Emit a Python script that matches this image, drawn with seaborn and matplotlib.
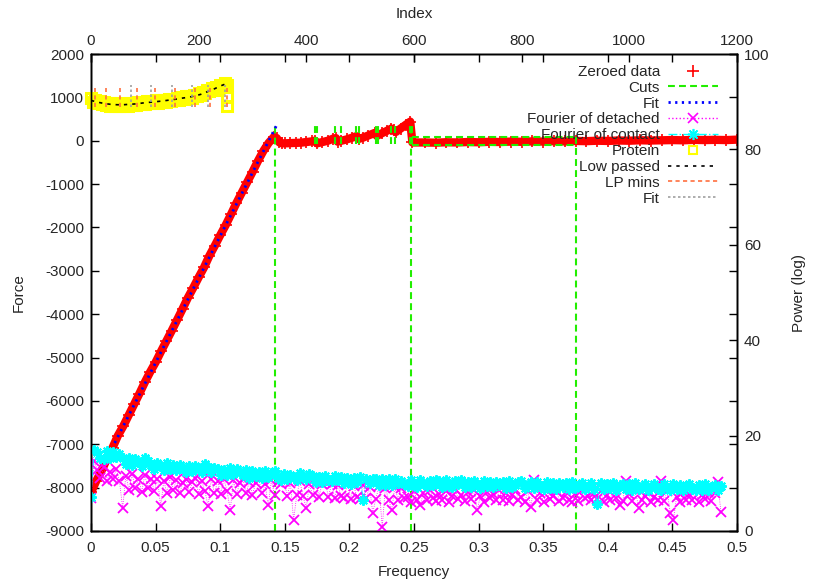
import numpy as np
import pandas as pd
import matplotlib
matplotlib.use("Agg")
import matplotlib.pyplot as plt
from matplotlib.lines import Line2D
import seaborn as sns

# ---------------- data ----------------
# Zeroed data: index vs force
red_idx = [0, 10, 20, 30, 40, 50, 60, 70, 80, 90, 100, 110, 120, 130, 140, 150, 160, 170,
           180, 190, 200, 210, 220, 230, 240, 250, 260, 270, 280, 290, 300, 310, 320, 330, 340,
           345, 350, 355, 360, 370, 380, 390, 400, 410, 416, 420, 430, 440, 450, 455, 458, 465,
           475, 485, 493, 497, 505, 515, 527, 531, 540, 550, 558, 562, 566, 575, 585, 593, 597,
           620, 640, 660, 680, 700, 720, 740, 760, 780, 800, 820, 840, 860, 880, 900, 920, 940,
           960, 980, 1000, 1020, 1040, 1060, 1080, 1100, 1120, 1140, 1160, 1180, 1200]
red_force = [-8110, -7840, -7600, -7330, -7080, -6800, -6580, -6330, -6080, -5830, -5570, -5330,
             -5110, -4860, -4620, -4380, -4130, -3880, -3620, -3390, -3150, -2920, -2650, -2420,
             -2180, -1950, -1700, -1440, -1200, -960, -720, -470, -240, -50, 90,
             60, -40, -60, -60, -55, -50, -45, -30, -15, 0, -60, -30, 0, 50, 60, -20, 0,
             30, 70, 105, 40, 70, 120, 180, 110, 170, 230, 280, 240, 200, 280, 370, 440, -40,
             -40, -45, -35, -40, -30, -35, -25, -30, -20, -25, -15, -20, -10, -15, -5, -10, 0,
             -5, 5, 0, 10, 5, 10, 15, 10, 20, 15, 20, 15, 25]

# Fit (blue) over the contact slope
fit_idx = [44, 347]
fit_force = [-6970, 410]

# Cuts (green)
cut_tall = [342, 594]
cut_short = [416, 420, 454, 464, 493, 498, 529, 534, 558, 565, 593, 596]
cut_short_lo, cut_short_hi = -80, 400
cut_box_idx = [596, 900]
cut_box_force = [90, -100]

# Protein (yellow squares)
prot_idx = [0, 4, 8, 12, 16, 20, 24, 28, 32, 36, 40, 44, 48, 52, 56, 60, 64, 68, 72, 76, 80,
            84, 88, 92, 96, 100, 104, 108, 112, 116, 120, 124, 128, 132, 136, 140, 144, 148,
            152, 156, 160, 164, 168, 172, 176, 180, 184, 188, 192, 196, 200, 204, 208, 212,
            216, 220, 224, 228, 232, 236, 240, 244, 248, 252, 253, 253]
prot_force = [980, 900, 950, 870, 920, 840, 890, 820, 870, 800, 860, 790, 850, 800, 860, 790,
              850, 810, 870, 820, 880, 830, 890, 840, 900, 850, 910, 860, 920, 870, 930, 880,
              940, 890, 950, 900, 960, 910, 970, 930, 990, 950, 1010, 960, 1020, 980, 1040,
              990, 1060, 1020, 1090, 1050, 1130, 1090, 1170, 1140, 1220, 1180, 1250, 1220,
              1290, 1250, 1320, 1290, 800, 1010]

# Low passed (black)
lp_idx = [0, 12, 24, 36, 48, 60, 72, 84, 96, 108, 120, 132, 144, 156, 168, 180, 192, 204,
          216, 228, 240, 248]
lp_force = [930, 890, 860, 840, 830, 830, 840, 850, 870, 885, 900, 915, 935, 955, 980, 1000,
            1030, 1070, 1130, 1190, 1260, 1300]

# LP mins (orange) and Fit (grey) markers
lpmin_idx = [7, 28, 54, 85, 119, 156, 193, 221, 253]
lpmin_lo, lpmin_hi = 780, 1220
pfit_idx = [74, 112, 150, 188, 217, 249]
pfit_lo, pfit_hi = 780, 1290

# Fourier spectra (frequency vs power)
n_freq = 200
freq = np.arange(n_freq) * 0.00245
contact = [
    7.2, 16.9, 16.6, 15.4, 15.1, 16.7, 15.2, 16.5, 15.6, 16.2,
    15.3, 14.0, 15.4, 13.8, 15.1, 14.4, 13.7, 15.3, 14.6, 13.9,
    12.9, 14.2, 13.6, 12.8, 14.2, 13.1, 13.9, 12.8, 13.8, 13.2,
    12.4, 13.6, 12.5, 13.7, 12.9, 12.3, 14.0, 13.5, 12.3, 13.2,
    13.1, 11.8, 12.7, 11.7, 13.2, 12.0, 12.9, 12.3, 11.7, 12.8,
    11.2, 12.5, 11.5, 12.4, 11.1, 12.6, 11.4, 12.2, 12.5, 11.2,
    10.7, 12.0, 10.8, 11.8, 11.2, 10.6, 12.1, 11.5, 10.8, 11.9,
    11.5, 10.3, 11.3, 10.3, 11.6, 10.7, 10.4, 11.5, 10.6, 11.3,
    10.0, 11.2, 9.9, 11.1, 10.3, 11.3, 6.5, 10.8, 10.0, 11.0,
    10.9, 9.7, 10.9, 9.6, 10.8, 9.7, 11.0, 10.1, 10.5, 9.8,
    9.4, 10.7, 9.7, 9.3, 10.6, 10.1, 9.4, 10.5, 9.6, 10.6,
    10.5, 9.3, 10.6, 9.5, 9.2, 10.5, 9.8, 10.6, 9.3, 10.2,
    9.2, 10.4, 9.8, 9.1, 10.5, 9.4, 10.3, 9.2, 10.2, 9.6,
    10.3, 9.1, 10.4, 9.3, 9.7, 10.2, 10.4, 9.1, 9.6, 10.3,
    9.0, 10.2, 9.4, 8.9, 10.2, 9.1, 10.0, 8.9, 10.1, 9.3,
    10.0, 8.9, 10.2, 9.0, 9.4, 10.1, 8.9, 9.3, 10.0, 8.9,
    5.6, 10.0, 8.8, 9.9, 9.1, 10.1, 8.7, 9.6, 9.9, 8.9,
    9.9, 8.7, 10.0, 8.8, 9.3, 9.9, 8.7, 9.2, 9.8, 8.8,
    8.7, 9.8, 9.1, 8.6, 9.9, 8.8, 9.7, 8.6, 9.4, 9.8,
    8.8, 8.5, 9.7, 8.6, 9.8, 8.5, 9.2, 9.7, 8.5, 9.5]
detached = [
    7.0, 14.6, 12.8, 11.2, 13.4, 10.5, 12.3, 11.0, 12.9, 10.4,
    4.8, 11.6, 8.6, 11.9, 9.0, 10.9, 8.2, 11.7, 9.1, 10.8,
    8.4, 11.0, 5.2, 10.4, 8.0, 11.3, 8.6, 10.7, 7.9, 10.1,
    10.8, 8.1, 10.2, 11.1, 7.8, 10.5, 8.3, 5.2, 10.9, 7.9,
    10.4, 7.8, 10.9, 8.3, 4.4, 10.6, 7.7, 10.1, 11.0, 8.0,
    10.3, 7.6, 10.0, 10.8, 7.9, 9.8, 5.4, 10.6, 7.5, 10.2,
    9.9, 10.5, 7.4, 10.1, 2.3, 7.6, 10.4, 7.3, 4.8, 9.9,
    7.5, 10.2, 7.2, 9.8, 10.3, 7.1, 9.9, 6.9, 9.6, 7.4,
    7.0, 9.8, 6.8, 9.5, 7.2, 6.7, 9.7, 6.9, 9.3, 3.8,
    6.8, 9.4, 0.8, 9.1, 6.6, 4.4, 9.3, 6.5, 9.0, 6.9,
    7.2, 6.1, 8.3, 6.6, 5.4, 7.9, 6.4, 8.6, 7.0, 6.2,
    7.8, 6.5, 8.4, 6.0, 7.4, 8.9, 6.7, 7.6, 6.3, 8.1,
    6.8, 8.5, 4.4, 7.3, 6.1, 8.2, 6.9, 7.7, 6.4, 8.7,
    6.6, 8.0, 6.2, 7.5, 8.8, 6.5, 7.1, 6.0, 8.3, 5.0,
    10.7, 6.4, 7.9, 6.1, 8.4, 6.8, 7.4, 8.7, 6.3, 7.0,
    8.1, 6.5, 6.0, 7.7, 6.2, 8.6, 6.9, 7.3, 6.4, 8.0,
    6.7, 8.3, 6.1, 7.6, 6.5, 8.8, 7.0, 5.4, 6.3, 10.4,
    7.8, 6.2, 8.5, 4.8, 6.6, 7.4, 8.2, 6.1, 7.1, 6.5,
    10.5, 6.3, 8.4, 3.8, 2.3, 7.2, 6.0, 8.1, 6.6, 7.7,
    6.4, 8.6, 6.1, 7.5, 6.8, 8.2, 6.3, 7.9, 10.2, 4.0]

freq_ticks = [0, 0.05, 0.1, 0.15, 0.2, 0.25, 0.3, 0.35, 0.4, 0.45, 0.5]
freq_tick_labels = ["0", "0.05", "0.1", "0.15", "0.2", "0.25", "0.3", "0.35", "0.4", "0.45", "0.5"]
force_ticks = list(range(-9000, 2001, 1000))
index_ticks = list(range(0, 1201, 200))
power_ticks = list(range(0, 101, 20))

# ---------------- style ----------------
sns.set_theme(style="ticks")
plt.rcParams['font.family'] = ['Liberation Sans', 'DejaVu Sans']
plt.rcParams['axes.unicode_minus'] = False
plt.rcParams['font.size'] = 11

C_RED = "#ff0000"
C_GREEN = "#22ee00"
C_BLUE = "#0000ff"
C_MAG = "#ff00ff"
C_CYAN = "#00ffff"
C_YEL = "#ffff00"
C_ORANGE = "#ff7040"
C_GREY = "#a0a0a0"

fig = plt.figure(figsize=(8.13, 5.80), dpi=100)
ax = fig.add_axes([91 / 813, 1 - 531 / 580, (737 - 91) / 813, (531 - 54) / 580])
ax_idx = ax.twiny()
ax_pow = ax.twinx()

# ---------------- index / force layer ----------------
sns.lineplot(x=red_idx, y=red_force, ax=ax_idx, color=C_RED, lw=6, sort=False,
             estimator=None, solid_capstyle='round', solid_joinstyle='round')
sns.lineplot(x=red_idx, y=red_force, ax=ax_idx, color=C_RED, lw=0, marker='+', ms=8,
             mew=1.2, mec=C_RED, sort=False, estimator=None)

# cuts
rows = []
seg = 0
for c in cut_tall:
    rows += [(c, -9500, seg), (c, 400, seg)]
    seg += 1
for c in cut_short:
    rows += [(c, cut_short_lo, seg), (c, cut_short_hi, seg)]
    seg += 1
for fy in cut_box_force:
    rows += [(cut_box_idx[0], fy, seg), (cut_box_idx[1], fy, seg)]
    seg += 1
rows += [(cut_box_idx[1], cut_box_force[0], seg), (cut_box_idx[1], -9500, seg)]
cuts_df = pd.DataFrame(rows, columns=["idx", "force", "seg"])
sns.lineplot(data=cuts_df, x="idx", y="force", units="seg", estimator=None, sort=False,
             ax=ax_idx, color=C_GREEN, lw=1.5, linestyle=(0, (3.3, 2)))

# fit
sns.lineplot(x=fit_idx, y=fit_force, ax=ax_idx, color=C_BLUE, lw=2,
             linestyle=(0, (0.8, 1.6)), estimator=None)

# protein
sns.lineplot(x=prot_idx, y=prot_force, ax=ax_idx, color=C_YEL, lw=0, marker='s', ms=7,
             mfc='none', mec=C_YEL, mew=2.2, sort=False, estimator=None, clip_on=False)
# low passed
sns.lineplot(x=lp_idx, y=lp_force, ax=ax_idx, color='black', lw=1.2,
             linestyle=(0, (2, 3)), estimator=None)
# LP mins
rows = []
for i, c in enumerate(lpmin_idx):
    rows += [(c, lpmin_lo, i), (c, lpmin_hi, i)]
lpm_df = pd.DataFrame(rows, columns=["idx", "force", "seg"])
sns.lineplot(data=lpm_df, x="idx", y="force", units="seg", estimator=None, sort=False,
             ax=ax_idx, color=C_ORANGE, lw=1.2, linestyle=(0, (2.5, 2)))
rows = []
for i, c in enumerate(pfit_idx):
    rows += [(c, pfit_lo, i), (c, pfit_hi, i)]
pf_df = pd.DataFrame(rows, columns=["idx", "force", "seg"])
sns.lineplot(data=pf_df, x="idx", y="force", units="seg", estimator=None, sort=False,
             ax=ax_idx, color=C_GREY, lw=1.2, linestyle=(0, (1.5, 1.5)))

# ---------------- frequency / power layer ----------------
sns.lineplot(x=freq, y=detached, ax=ax_pow, color=C_MAG, lw=0.6, linestyle=':', marker='x',
             ms=7.5, mew=1.3, mec=C_MAG, estimator=None, sort=False)
sns.lineplot(x=freq, y=contact, ax=ax_pow, color=C_CYAN, lw=0.7, linestyle='-.',
             marker=(8, 2, 0), ms=7.5, mew=1.5, mec=C_CYAN, estimator=None, sort=False)

# ---------------- axes ----------------
ax.set_xlim(0, 0.5)
ax.set_ylim(-9000, 2000)
ax_idx.set_xlim(0, 1200)
ax_pow.set_ylim(0, 100)
ax_pow.set_xlim(0, 0.5)

ax.set_xticks(freq_ticks)
ax.set_xticklabels(freq_tick_labels)
ax.set_yticks(force_ticks)
ax.set_yticklabels([str(v) for v in force_ticks])
ax_idx.set_xticks(index_ticks)
ax_idx.set_xticklabels([str(v) for v in index_ticks])
ax_pow.set_yticks(power_ticks)
ax_pow.set_yticklabels([str(v) for v in power_ticks])

ax.tick_params(axis='x', which='both', direction='in', length=6, width=1, bottom=True,
               top=True, labelbottom=True, labeltop=False, pad=7.5, labelsize=11, color='black')
ax.tick_params(axis='y', which='both', direction='in', length=6, width=1, left=True,
               right=True, labelleft=True, labelright=False, pad=5, labelsize=11, color='black')
ax_idx.tick_params(axis='x', direction='in', length=6, width=1, top=True, bottom=False,
                   labeltop=True, labelbottom=False, pad=4, labelsize=11, color='black')
ax_pow.tick_params(axis='y', direction='in', length=6, width=1, right=True, left=False,
                   labelright=True, labelleft=False, pad=5, labelsize=11, color='black')

ax.set_xlabel("Frequency", fontsize=11, labelpad=7)
ax.set_ylabel("Force", fontsize=11, labelpad=14)
ax_idx.set_xlabel("Index", fontsize=11, labelpad=12)
ax_pow.set_ylabel("Power (log)", fontsize=11, labelpad=16)
ax_idx.set_ylabel("")

for a in (ax, ax_idx, ax_pow):
    for s in a.spines.values():
        s.set_color('black')
        s.set_linewidth(1.0)

# ---------------- legend ----------------
handles = [
    Line2D([], [], color=C_RED, marker='+', ls='none', ms=8, mew=1.2),
    Line2D([], [], color=C_GREEN, lw=1.5, ls=(0, (3.3, 2))),
    Line2D([], [], color=C_BLUE, lw=2, ls=(0, (0.8, 1.6))),
    Line2D([], [], color=C_MAG, lw=1, ls=':', marker='x', ms=7, mew=1.2),
    Line2D([], [], color=C_CYAN, lw=1, ls='-.', marker=(8, 2, 0), ms=8, mew=1.2),
    Line2D([], [], color=C_YEL, ls='none', marker='s', ms=6, mfc='none', mew=1.5),
    Line2D([], [], color='black', lw=1.2, ls=(0, (2, 3))),
    Line2D([], [], color=C_ORANGE, lw=1.2, ls=(0, (2.5, 2))),
    Line2D([], [], color=C_GREY, lw=1.2, ls=(0, (1.5, 1.5))),
]
labels = ["Zeroed data", "Cuts", "Fit", "Fourier of detached", "Fourier of contact",
          "Protein", "Low passed", "LP mins", "Fit"]
leg = ax_pow.legend(handles, labels, loc='upper right', bbox_to_anchor=(0.9706, 0.977),
                    frameon=False, markerfirst=False, fontsize=11, labelspacing=0.12,
                    handlelength=3.3, handletextpad=0.5, borderpad=0, borderaxespad=0,
                    numpoints=1)
for vp in leg._legend_handle_box.get_children():
    vp.align = "right"

fig.savefig("out.png", dpi=100)
